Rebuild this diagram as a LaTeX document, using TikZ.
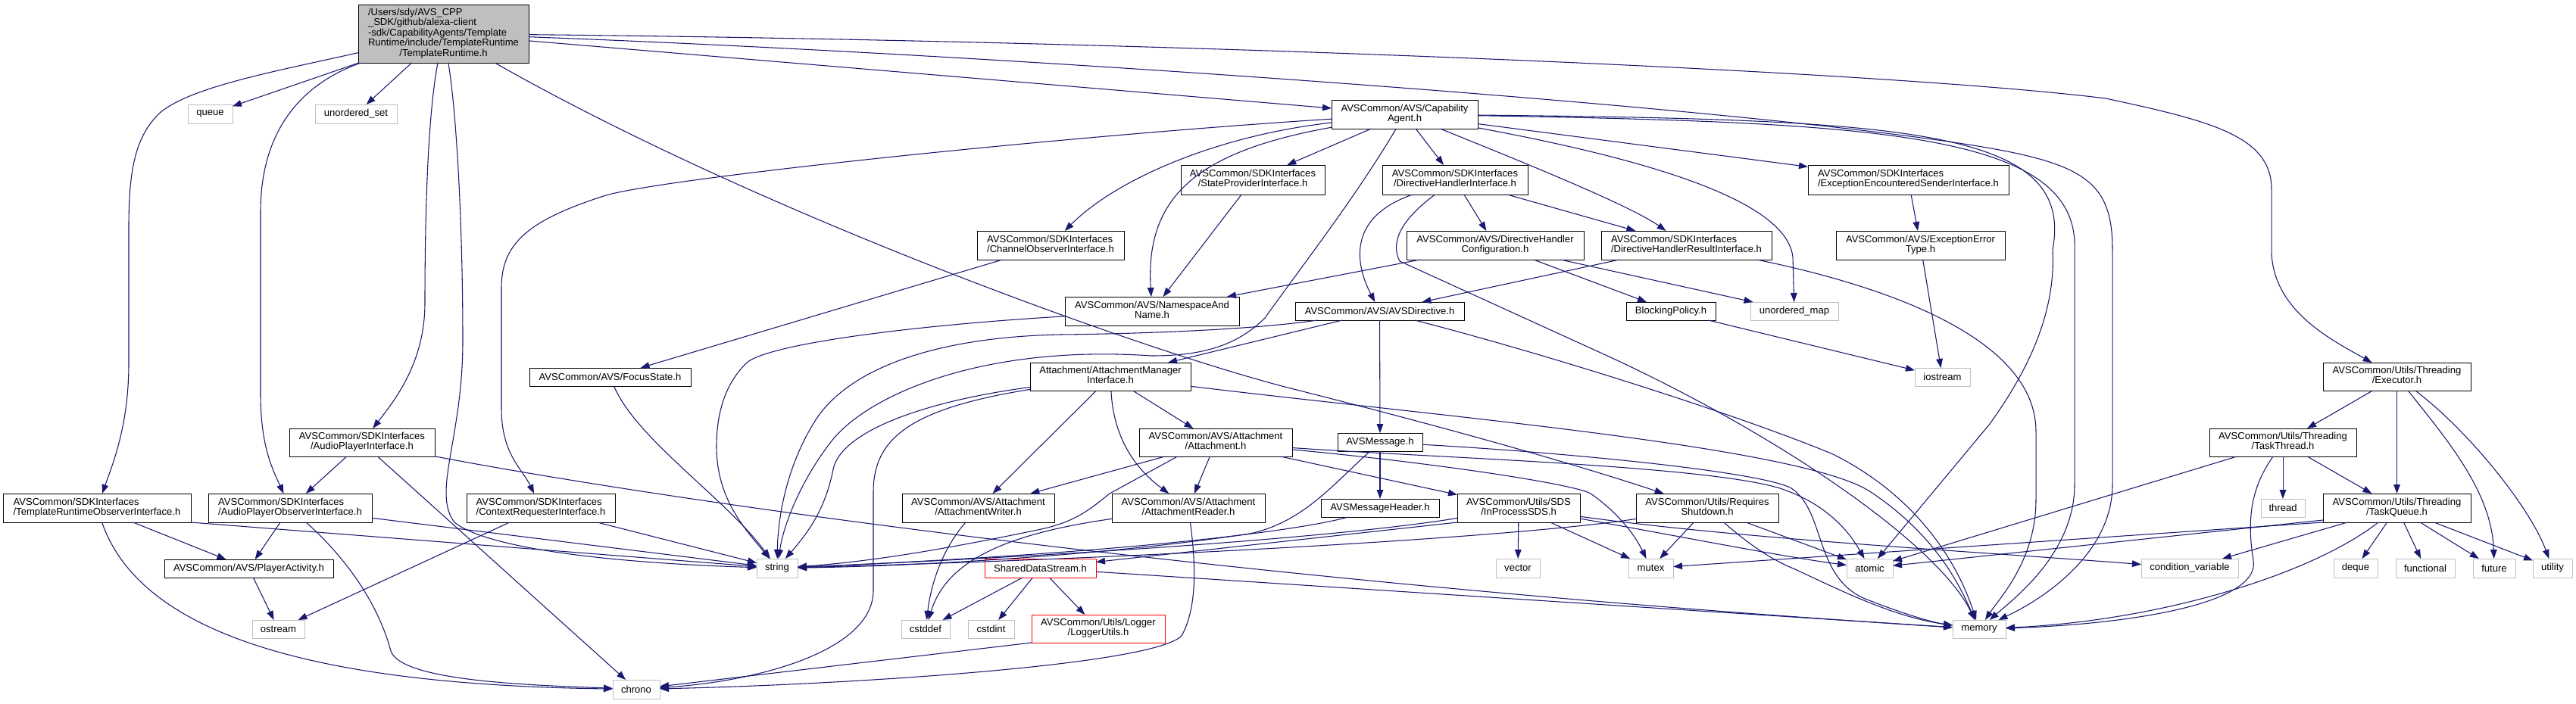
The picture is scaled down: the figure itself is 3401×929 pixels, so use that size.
\documentclass[tikz,border=0pt]{standalone}
\usepackage{fontspec}
\setmainfont{Liberation Sans}
\usetikzlibrary{arrows.meta,calc}
\definecolor{edgec}{HTML}{191970}
\definecolor{graybd}{HTML}{BFBFBF}
\definecolor{redbd}{HTML}{FF0000}
\definecolor{mainfill}{HTML}{BFBFBF}
\tikzset{
  nb/.style={draw=black, fill=white, line width=0.75pt, inner sep=0pt, outer sep=0pt, text=black, font=\fontsize{9.8}{9.9}\selectfont},
  ng/.style={nb, draw=graybd},
  nr/.style={nb, draw=redbd},
  nm/.style={nb, fill=mainfill},
  edg/.style={draw=edgec, line width=0.8pt, -{Triangle[length=9pt,width=6.5pt]}},
}
\newcommand\lbl[2]{\begin{tabular}{@{}l@{}}#1\\\multicolumn{1}{@{}c@{}}{#2}\end{tabular}}
\newcommand\mknode[7]{\node[#6,minimum width={(#4-#2)*0.75pt},minimum height={(#5-#3)*0.75pt}] (#1) at ({(#2+#4)/2},{(#3+#5)/2}) {#7};}
\begin{document}
\begin{tikzpicture}[x=0.75pt,y=-0.75pt]
\useasboundingbox (0,0) rectangle (3401,929);
\fill[white] (0,0) rectangle (3401,929);
% nodes
\mknode{main}{473}{6}{698}{83}{nm}{\lbl{/Users/sdy/AVS\_CPP\\\_SDK/github/alexa-client\\-sdk/CapabilityAgents/Template\\Runtime/include/TemplateRuntime}{/TemplateRuntime.h}}
\mknode{queue}{248}{138}{307}{163}{ng}{queue}
\mknode{uset}{416}{138}{524}{163}{ng}{unordered\_set}
\mknode{capag}{1758}{132}{1951}{170}{nb}{\lbl{AVSCommon/AVS/Capability}{Agent.h}}
\mknode{stateprov}{1559}{218}{1749}{257}{nb}{\lbl{AVSCommon/SDKInterfaces}{/StateProviderInterface.h}}
\mknode{dhi}{1825}{218}{2017}{257}{nb}{\lbl{AVSCommon/SDKInterfaces}{/DirectiveHandlerInterface.h}}
\mknode{eesi}{2387}{218}{2652}{257}{nb}{\lbl{AVSCommon/SDKInterfaces}{/ExceptionEncounteredSenderInterface.h}}
\mknode{chobs}{1290}{305}{1484}{343}{nb}{\lbl{AVSCommon/SDKInterfaces}{/ChannelObserverInterface.h}}
\mknode{dhc}{1857}{305}{2091}{343}{nb}{\lbl{AVSCommon/AVS/DirectiveHandler}{Configuration.h}}
\mknode{dhri}{2114}{305}{2339}{343}{nb}{\lbl{AVSCommon/SDKInterfaces}{/DirectiveHandlerResultInterface.h}}
\mknode{eet}{2424}{305}{2647}{343}{nb}{\lbl{AVSCommon/AVS/ExceptionError}{Type.h}}
\mknode{nsn}{1406}{392}{1636}{430}{nb}{\lbl{AVSCommon/AVS/NamespaceAnd}{Name.h}}
\mknode{avsdir}{1710}{399}{1933}{423}{nb}{AVSCommon/AVS/AVSDirective.h}
\mknode{blocking}{2147}{399}{2265}{423}{nb}{BlockingPolicy.h}
\mknode{umap}{2311}{399}{2427}{423}{ng}{unordered\_map}
\mknode{focus}{699}{486}{912}{510}{nb}{AVSCommon/AVS/FocusState.h}
\mknode{iostream}{2528}{486}{2601}{510}{ng}{iostream}
\mknode{attmgr}{1360}{479}{1572}{516}{nb}{\lbl{Attachment/AttachmentManager}{Interface.h}}
\mknode{executor}{3067}{479}{3262}{516}{nb}{\lbl{AVSCommon/Utils/Threading}{/Executor.h}}
\mknode{api}{382}{566}{574}{603}{nb}{\lbl{AVSCommon/SDKInterfaces}{/AudioPlayerInterface.h}}
\mknode{attach}{1504}{566}{1706}{603}{nb}{\lbl{AVSCommon/AVS/Attachment}{/Attachment.h}}
\mknode{avsmsg}{1766}{572}{1878}{596}{nb}{AVSMessage.h}
\mknode{tthread}{2917}{566}{3111}{603}{nb}{\lbl{AVSCommon/Utils/Threading}{/TaskThread.h}}
\mknode{tro}{4}{652}{252}{690}{nb}{\lbl{AVSCommon/SDKInterfaces}{/TemplateRuntimeObserverInterface.h}}
\mknode{apo}{275}{652}{491}{690}{nb}{\lbl{AVSCommon/SDKInterfaces}{/AudioPlayerObserverInterface.h}}
\mknode{ctxreq}{616}{652}{812}{690}{nb}{\lbl{AVSCommon/SDKInterfaces}{/ContextRequesterInterface.h}}
\mknode{attw}{1191}{652}{1392}{690}{nb}{\lbl{AVSCommon/AVS/Attachment}{/AttachmentWriter.h}}
\mknode{attr}{1468}{652}{1670}{690}{nb}{\lbl{AVSCommon/AVS/Attachment}{/AttachmentReader.h}}
\mknode{avsmh}{1744}{659}{1900}{683}{nb}{AVSMessageHeader.h}
\mknode{ipsds}{1924}{652}{2086}{690}{nb}{\lbl{AVSCommon/Utils/SDS}{/InProcessSDS.h}}
\mknode{reqsd}{2160}{652}{2348}{690}{nb}{\lbl{AVSCommon/Utils/Requires}{Shutdown.h}}
\mknode{thread}{2985}{659}{3043}{683}{ng}{thread}
\mknode{tqueue}{3067}{652}{3262}{690}{nb}{\lbl{AVSCommon/Utils/Threading}{/TaskQueue.h}}
\mknode{pact}{217}{739}{440}{763}{nb}{AVSCommon/AVS/PlayerActivity.h}
\mknode{string}{999}{738}{1053}{763}{ng}{string}
\mknode{sds}{1300}{738}{1447}{763}{nr}{SharedDataStream.h}
\mknode{vector}{1975}{738}{2033}{763}{ng}{vector}
\mknode{mutex}{2150}{738}{2209}{763}{ng}{mutex}
\mknode{atomic}{2438}{738}{2499}{763}{ng}{atomic}
\mknode{condvar}{2827}{738}{2955}{763}{ng}{condition\_variable}
\mknode{deque}{3081}{738}{3139}{763}{ng}{deque}
\mknode{functional}{3163}{738}{3241}{763}{ng}{functional}
\mknode{future}{3265}{738}{3321}{763}{ng}{future}
\mknode{utility}{3344}{738}{3396}{763}{ng}{utility}
\mknode{ostream}{333}{819}{402}{843}{ng}{ostream}
\mknode{cstddef}{1190}{819}{1254}{843}{ng}{cstddef}
\mknode{cstdint}{1278}{819}{1339}{843}{ng}{cstdint}
\mknode{logger}{1362}{812}{1538}{849}{nr}{\lbl{AVSCommon/Utils/Logger}{/LoggerUtils.h}}
\mknode{memory}{2578}{819}{2648}{843}{ng}{memory}
\mknode{chrono}{809}{898}{871}{923}{ng}{chrono}
% edges from main
\draw[edg] (main) .. controls (360,95) and (250,115) .. (210,150) .. controls (180,180) and (170,220) .. (170,300) -- (170,480) .. controls (170,560) and (150,610) .. (tro);
\draw[edg] (main) -- (queue);
\draw[edg] (main) -- (uset);
\draw[edg] (main) .. controls (400,110) and (344,170) .. (344,280) -- (344,520) .. controls (344,590) and (360,620) .. (apo);
\draw[edg] (main) .. controls (565,150) and (561,280) .. (561,400) .. controls (561,480) and (520,530) .. (api);
\draw[edg] (main) .. controls (603,150) and (611,300) .. (611,450) .. controls (611,580) and (570,650) .. (600,690) .. controls (650,730) and (850,745) .. (string);
\draw[edg] (main) .. controls (1000,280) and (1500,460) .. (1700,512) .. controls (1950,575) and (2100,620) .. (reqsd);
\draw[edg] (main) -- (capag);
\draw[edg] (main) .. controls (1400,75) and (2400,150) .. (2650,200) .. controls (2760,222) and (2789,250) .. (2789,330) -- (2789,640) .. controls (2789,730) and (2700,790) .. (memory);
\draw[edg] (main) .. controls (1600,55) and (2500,95) .. (2780,130) .. controls (2920,160) and (2999,180) .. (2999,250) -- (2999,330) .. controls (2999,410) and (3080,450) .. (executor);
% CapabilityAgent
\draw[edg] (capag) .. controls (1400,180) and (880,235) .. (800,258) .. controls (700,290) and (662,320) .. (662,380) -- (662,540) .. controls (662,600) and (690,620) .. (ctxreq);
\draw[edg] (capag) .. controls (1600,180) and (1470,240) .. (chobs);
\draw[edg] (capag) .. controls (1580,200) and (1512,260) .. (nsn);
\draw[edg] (capag) -- (stateprov);
\draw[edg] (capag) .. controls (1790,260) and (1720,350) .. (1670,420) .. controls (1630,460) and (1580,470) .. (1520,470) .. controls (1300,455) and (1150,520) .. (1100,580) .. controls (1060,630) and (1035,690) .. (string);
\draw[edg] (capag) -- (dhi);
\draw[edg] (capag) .. controls (2000,210) and (2150,270) .. (dhri);
\draw[edg] (capag) .. controls (2200,215) and (2360,270) .. (2367,340) -- (umap);
\draw[edg] (capag) -- (eesi);
\draw[edg] (capag) .. controls (2520,158) and (2740,170) .. (2710,330) .. controls (2715,420) and (2670,500) .. (2627,560) -- (atomic);
\draw[edg] (capag) .. controls (2480,162) and (2745,175) .. (2739,330) -- (2739,640) .. controls (2739,730) and (2660,790) .. (memory);
% interfaces
\draw[edg] (stateprov) -- (nsn);
\draw[edg] (dhi) .. controls (1770,290) and (1795,360) .. (avsdir);
\draw[edg] (dhi) -- (dhc);
\draw[edg] (dhi) -- (dhri);
\draw[edg] (dhi) .. controls (1850,290) and (1835,320) .. (1848,345) -- (2122,470) .. controls (2350,575) and (2560,720) .. (memory);
\draw[edg] (dhc) -- (nsn);
\draw[edg] (dhc) -- (blocking);
\draw[edg] (dhc) -- (umap);
\draw[edg] (dhri) -- (avsdir);
\draw[edg] (dhri) .. controls (2500,380) and (2688,450) .. (2688,570) -- (2688,660) .. controls (2688,740) and (2640,790) .. (memory);
\draw[edg] (eesi) -- (eet);
\draw[edg] (eet) -- (iostream);
\draw[edg] (blocking) -- (iostream);
\draw[edg] (chobs) -- (focus);
\draw[edg] (focus) .. controls (840,580) and (960,660) .. (string);
\draw[edg] (nsn) .. controls (1200,430) and (1010,455) .. (985,480) .. controls (955,510) and (946,550) .. (946,590) .. controls (946,660) and (985,700) .. (string);
% AVSDirective
\draw[edg] (avsdir) .. controls (1650,436) and (1500,441) .. (1400,442) .. controls (1250,445) and (1130,480) .. (1080,550) .. controls (1040,610) and (1027,680) .. (string);
\draw[edg] (avsdir) -- (attmgr);
\draw[edg] (avsdir) -- (avsmsg);
\draw[edg] (avsdir) .. controls (2050,470) and (2300,550) .. (2420,600) .. controls (2520,650) and (2580,730) .. (memory);
% AVSMessage
\draw[edg] (avsmsg) -- (avsmh);
\draw[edg] (avsmsg) .. controls (1760,640) and (1720,690) .. (1650,705) .. controls (1450,735) and (1200,748) .. (string);
\draw[edg] (avsmsg) .. controls (2100,600) and (2330,625) .. (2365,645) .. controls (2410,675) and (2395,760) .. (2460,790) .. controls (2510,810) and (2550,822) .. (memory);
\draw[edg] (avsmh) .. controls (1720,700) and (1500,730) .. (string);
% Attachment
\draw[edg] (attach) .. controls (1900,605) and (2250,615) .. (2350,645) .. controls (2410,665) and (2440,700) .. (atomic);
\draw[edg] (attach) .. controls (1900,612) and (2080,640) .. (2100,652) .. controls (2140,680) and (2160,710) .. (mutex);
\draw[edg] (attach) -- (ipsds);
\draw[edg] (attach) -- (attw);
\draw[edg] (attach) -- (attr);
\draw[edg] ($(attach.south west)!0.25!(attach.south east)$) -- (1465,652) .. controls (1440,672) and (1420,690) .. (1370,700) .. controls (1250,725) and (1150,742) .. (string);
% AttachmentManager
\draw[edg] (attmgr) .. controls (1220,530) and (1110,570) .. (1100,620) .. controls (1090,670) and (1070,700) .. (string);
\draw[edg] (attmgr) .. controls (1200,540) and (1153,580) .. (1153,650) -- (1153,780) .. controls (1153,860) and (1000,900) .. (chrono);
\draw[edg] (attmgr) -- (attw);
\draw[edg] (attmgr) -- (attach);
\draw[edg] (attmgr) .. controls (1470,580) and (1500,620) .. (attr);
\draw[edg] (attmgr) .. controls (1900,550) and (2380,590) .. (2470,650) .. controls (2560,710) and (2590,780) .. (memory);
\draw[edg] (attw) .. controls (1240,730) and (1228,780) .. (cstddef);
\draw[edg] (attr) .. controls (1330,705) and (1250,740) .. (cstddef);
\draw[edg] (attr) .. controls (1578,740) and (1582,800) .. (1560,840) .. controls (1520,880) and (1100,905) .. (chrono);
% SDS
\draw[edg] (ipsds) .. controls (1800,705) and (1500,730) .. (string);
\draw[edg] (ipsds) -- (vector);
\draw[edg] (ipsds) -- (mutex);
\draw[edg] (ipsds) .. controls (2200,705) and (2350,735) .. (atomic);
\draw[edg] (ipsds) .. controls (2300,712) and (2600,728) .. (condvar);
\draw[edg] (ipsds.south west) -- (sds);
\draw[edg] (sds) -- (cstddef);
\draw[edg] (sds) -- (cstdint);
\draw[edg] (sds) -- (logger);
\draw[edg] (sds) -- (memory);
\draw[edg] (logger.south west) -- (chrono);
% RequiresShutdown
\draw[edg] (reqsd) .. controls (2000,710) and (1500,738) .. (string);
\draw[edg] (reqsd) -- (mutex);
\draw[edg] (reqsd) -- (atomic);
\draw[edg] (reqsd) .. controls (2310,720) and (2340,740) .. (2370,752) .. controls (2430,780) and (2500,815) .. (memory);
% audio player etc
\draw[edg] (api) -- (apo);
\draw[edg] (api) -- (chrono);
\draw[edg] (api) .. controls (900,665) and (1650,770) .. (memory);
\draw[edg] (tro) -- (pact);
\draw[edg] (tro) .. controls (190,850) and (450,905) .. (chrono);
\draw[edg] (tro.south east) -- (string);
\draw[edg] (apo) -- (pact);
\draw[edg] (apo) .. controls (460,740) and (500,800) .. (516,860) .. controls (530,900) and (700,905) .. (chrono);
\draw[edg] (apo) -- (string);
\draw[edg] (pact) -- (ostream);
\draw[edg] (ctxreq) -- (ostream);
\draw[edg] (ctxreq) -- (string);
% threading
\draw[edg] (executor) -- (tthread);
\draw[edg] (executor) -- (tqueue);
\draw[edg] (executor) .. controls (3230,580) and (3290,650) .. (future);
\draw[edg] (executor) .. controls (3260,570) and (3340,670) .. (utility);
\draw[edg] (tthread) -- (atomic);
\draw[edg] (tthread) -- (thread);
\draw[edg] (tthread) -- (tqueue);
\draw[edg] (tthread) .. controls (2975,640) and (2965,680) .. (2975,740) .. controls (2985,800) and (2800,825) .. (memory);
\draw[edg] (tqueue.south west) -- (mutex);
\draw[edg] ($(tqueue.south west)+(0,-3)$) -- (atomic);
\draw[edg] (tqueue) -- (condvar);
\draw[edg] (tqueue) .. controls (3050,760) and (2850,820) .. (memory);
\draw[edg] (tqueue) -- (deque);
\draw[edg] (tqueue) -- (functional);
\draw[edg] (tqueue) -- (future);
\draw[edg] (tqueue) -- (utility);
\end{tikzpicture}
\end{document}
